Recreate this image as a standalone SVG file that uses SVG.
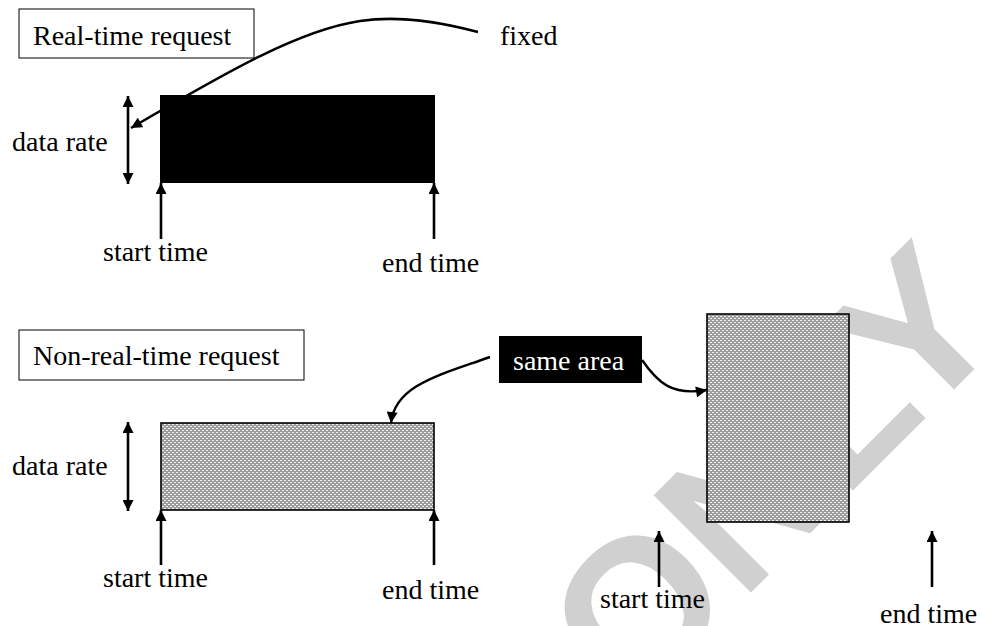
<svg xmlns="http://www.w3.org/2000/svg" width="982" height="626" viewBox="0 0 982 626">
<style>
text{font-family:"Liberation Serif","Times New Roman",serif;font-size:28px;fill:#000}
.wm{font-family:"Liberation Sans",Arial,sans-serif;font-weight:bold;font-size:200px;fill:#d0d0d0}
.box{fill:#fff;stroke:#000;stroke-width:1}
.pat{fill:url(#dots);stroke:#000;stroke-width:1.6}
.arr{fill:none;stroke:#000;stroke-width:2.6;marker-end:url(#ah)}
.dbl{fill:none;stroke:#000;stroke-width:2.6;marker-start:url(#ah);marker-end:url(#ah)}
.crv{fill:none;stroke:#000;stroke-width:2.4;marker-end:url(#ah)}
</style>
<defs>
<pattern id="dots" x="0" y="0" width="4" height="4" patternUnits="userSpaceOnUse">
<rect width="4" height="4" fill="#9c9c9c"/>
<rect x="0" y="0" width="2" height="1" fill="#f2f2f2"/>
<rect x="2" y="2" width="2" height="1" fill="#f2f2f2"/>
</pattern>
<marker id="ah" viewBox="0 0 10 10" refX="10" refY="5" markerWidth="12" markerHeight="11" markerUnits="userSpaceOnUse" orient="auto-start-reverse">
<path d="M0,0 L10,5 L0,10 z" fill="#000"/>
</marker>
</defs>
<rect width="982" height="626" fill="#fff"/>
<text class="wm" transform="rotate(-45)" x="-57" y="950">ONLY</text>

<g id="rt-label"><rect class="box" x="19" y="9" width="235" height="49"/><text x="33" y="45">Real-time request</text></g>
<g id="fixed-label"><text x="500" y="45">fixed</text></g>
<g id="rt-block"><rect x="160" y="95" width="275" height="88" fill="#000"/></g>
<g id="rt-rate"><text x="12" y="151">data rate</text></g>
<g id="rt-start"><text x="103" y="261">start time</text></g>
<g id="rt-end"><text x="382" y="272">end time</text></g>

<g id="nrt-label"><rect class="box" x="19" y="330" width="285" height="50"/><text x="33" y="365">Non-real-time request</text></g>
<g id="nrt-block"><rect class="pat" x="161" y="423" width="273" height="87"/></g>
<g id="nrt-rate"><text x="12" y="475">data rate</text></g>
<g id="nrt-start"><text x="103" y="587">start time</text></g>
<g id="nrt-end"><text x="382" y="599">end time</text></g>

<g id="same-area"><rect x="499" y="336" width="143" height="47" fill="#000"/><text x="513" y="370" style="fill:#fff">same area</text></g>
<g id="tall-block"><rect class="pat" x="707" y="314" width="142" height="208"/></g>
<g id="tall-start"><text x="600" y="608">start time</text></g>
<g id="tall-end"><text x="880" y="623">end time</text></g>

<g id="connectors">
<path class="crv" d="M478,32 C440,22 400,15 360,21 C300,30 230,70 131,128"/>
<line class="dbl" x1="128" y1="96" x2="128" y2="184"/>
<line class="arr" x1="161" y1="239" x2="161" y2="183"/>
<line class="arr" x1="434" y1="239" x2="434" y2="183"/>
<line class="dbl" x1="128" y1="422" x2="128" y2="511"/>
<line class="arr" x1="161" y1="565" x2="161" y2="510"/>
<line class="arr" x1="434" y1="565" x2="434" y2="510"/>
<path class="crv" d="M490,357 C440,375 395,385 391,423"/>
<path class="crv" d="M642,360 C658,383 672,396 707,390"/>
<line class="arr" x1="659" y1="587" x2="659" y2="531"/>
<line class="arr" x1="932" y1="587" x2="932" y2="531"/>
</g>
</svg>
